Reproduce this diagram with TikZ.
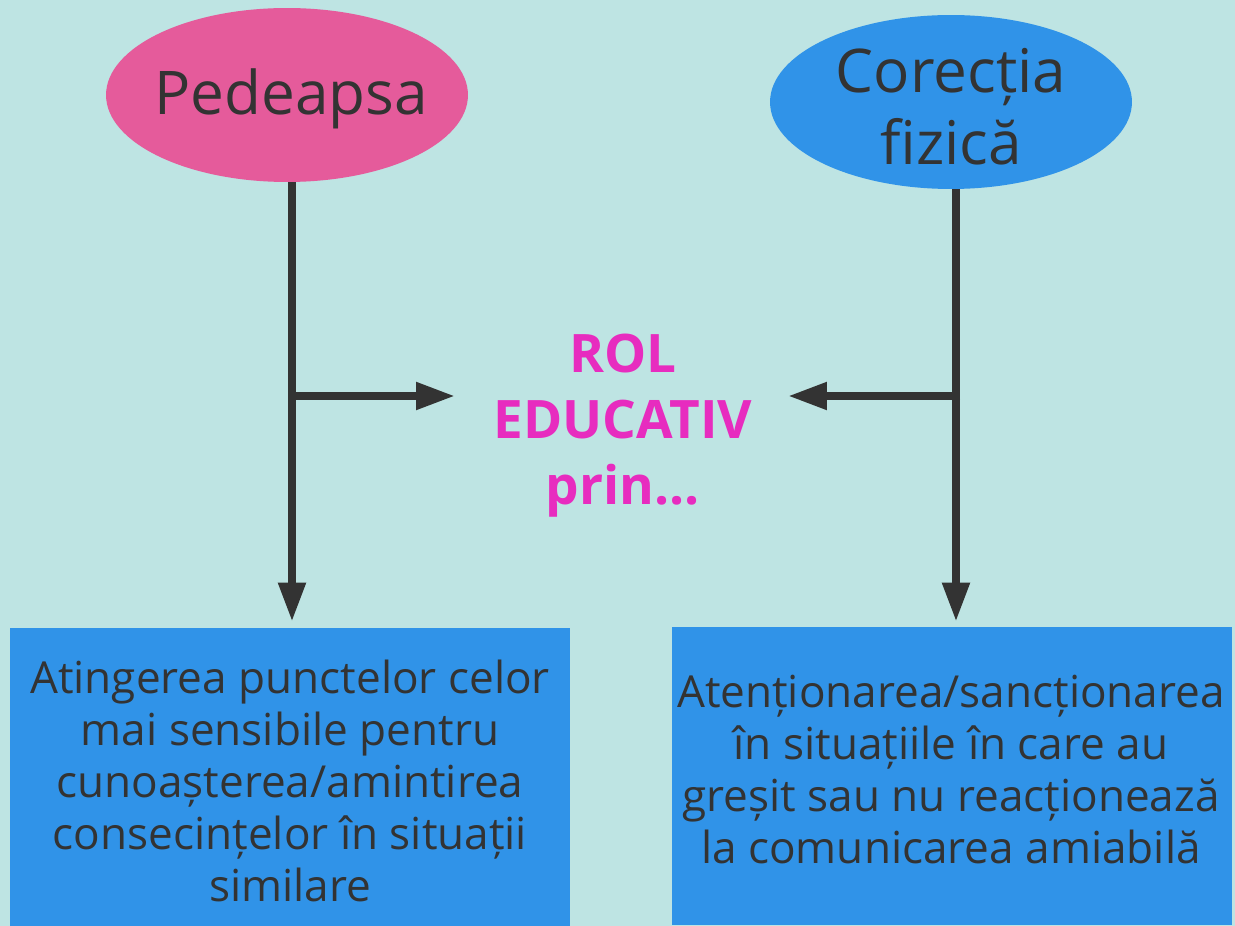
\documentclass[tikz,border=0pt]{standalone}
\usepackage{fontspec}
\setmainfont{Open Sans}
\usetikzlibrary{shapes.geometric,arrows.meta}
\definecolor{bgc}{HTML}{BEE4E3}
\definecolor{pinkc}{HTML}{E55B9B}
\definecolor{bluec}{HTML}{3093E8}
\definecolor{darkc}{HTML}{333333}
\definecolor{magc}{HTML}{E72CBF}
\tikzset{
  oval/.style={ellipse, draw=none, minimum width=7.24cm, minimum height=3.48cm, inner sep=0pt},
  ovaltext/.style={text=darkc, align=center, inner sep=0pt, font=\fontsize{34.3}{41}\selectfont},
  infobox/.style={rectangle, fill=bluec, draw=none, minimum width=11.2cm, minimum height=5.96cm, inner sep=0pt},
  boxtext/.style={text=darkc, align=center, inner sep=0pt, font=\fontsize{25.1}{29.6}\selectfont},
  conn/.style={draw=darkc, line width=0.16cm, -{Triangle[length=0.78cm,width=0.52cm]}}
}
\begin{document}
\begin{tikzpicture}[x=0.02cm,y=-0.02cm]
\fill[bgc] (0,0) rectangle (1235,926);
\useasboundingbox (0,0) rectangle (1235,926);
\node[oval, fill=pinkc] (e1) at (287,95) {};
\node[ovaltext] (l1) at (291,99) {Pedeapsa};
\node[oval, fill=bluec] (e2) at (951,102) {};
\node[ovaltext] (l2) at (951,107) {Corecția\\fizică};
\node[text=magc, align=center, font=\bfseries\fontsize{30.2}{37.5}\selectfont] (c) at (623,426) {ROL\\EDUCATIV\\prin...};
\node[infobox] (b1) at (290,777) {};
\node[boxtext] (bt1) at (290,780.5) {Atingerea punctelor celor\\mai sensibile pentru\\cunoașterea/amintirea\\consecințelor în situații\\similare};
\node[infobox] (b2) at (952,776) {};
\node[boxtext] (bt2) at (951,769.5) {Atenționarea/sancționarea\\în situațiile în care au\\greșit sau nu reacționează\\la comunicarea amiabilă};
\coordinate (j1) at (292,396);
\coordinate (j2) at (956,396);
\coordinate (t1) at (455,396);
\coordinate (t2) at (788,396);
\draw[conn, shorten >=0.12cm] (j1 |- e1.south) -- (j1 |- b1.north);
\draw[conn, shorten >=0.1cm] (j2 |- e2.south) -- (j2 |- b2.north);
\draw[conn] ([xshift=-0.08cm]j1) -- (t1);
\draw[conn] ([xshift=0.08cm]j2) -- (t2);
\end{tikzpicture}
\end{document}
